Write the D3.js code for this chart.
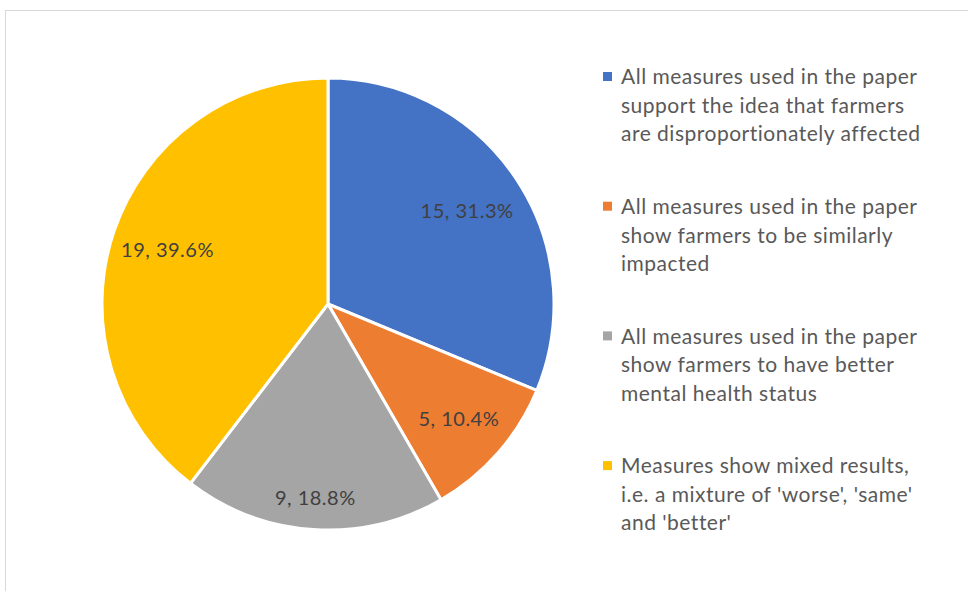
<!DOCTYPE html>
<html>
<head>
  <meta charset="utf-8">
  <title>Pie chart</title>
  <style>
    body { margin: 0; background: #fff; }
    svg { display: block; font-family: Lato, "Open Sans", sans-serif; }
    .slice { stroke: #fff; stroke-width: 3px; }
    .data-label { fill: #404040; font-size: 20px; letter-spacing: 0.5px; }
    .legend-text { fill: #595959; font-size: 21px; letter-spacing: 0.5px; }
  </style>
</head>
<body>
  <svg width="968" height="591"></svg>

  <script src="https://d3js.org/d3.v7.min.js"></script>
  <script>
    var categories = [
      ['All measures used in the paper', 'support the idea that farmers', 'are disproportionately affected'],
      ['All measures used in the paper', 'show farmers to be similarly', 'impacted'],
      ['All measures used in the paper', 'show farmers to have better', 'mental health status'],
      ['Measures show mixed results,', "i.e. a mixture of 'worse', 'same'", "and 'better'"]
    ];
    var counts = [15, 5, 9, 19];
    var colors = ['#4472c4', '#ed7d31', '#a5a5a5', '#ffc000'];

    var svg = d3.select('svg');

    // chart area border (runs off the right and bottom edges)
    svg.append('rect')
      .attr('x', 5.5).attr('y', 10.5)
      .attr('width', 1200).attr('height', 1200)
      .attr('fill', 'none')
      .attr('stroke', '#d9d9d9');

    var cx = 328, cy = 304, radius = 226;
    var total = d3.sum(counts);
    // how far out (fraction of radius) each label sits, like Excel's best fit
    var labelReach = [0.74, 0.77, 0.86, 0.75];

    var pie = d3.pie().sort(null).value(function(d) { return d; });
    var arc = d3.arc().innerRadius(0).outerRadius(radius);

    var g = svg.append('g').attr('transform', 'translate(' + cx + ',' + cy + ')');
    var arcs = pie(counts);

    g.selectAll('path.slice')
      .data(arcs)
      .enter().append('path')
      .attr('class', 'slice')
      .attr('fill', function(d, i) { return colors[i]; })
      .attr('d', arc);

    g.selectAll('text.data-label')
      .data(arcs)
      .enter().append('text')
      .attr('class', 'data-label')
      .attr('text-anchor', 'middle')
      .attr('dy', '0.35em')
      .attr('transform', function(d, i) {
        var r = radius * labelReach[i];
        var c = d3.arc().innerRadius(r).outerRadius(r).centroid(d);
        return 'translate(' + c + ')';
      })
      .text(function(d) { return d.data + ', ' + (d.data / total * 100).toFixed(1) + '%'; });

    // legend
    var legend = svg.append('g').attr('transform', 'translate(603,77)');
    var entry = legend.selectAll('g.entry')
      .data(categories)
      .enter().append('g')
      .attr('class', 'entry')
      .attr('transform', function(d, i) { return 'translate(0,' + (i * 129.7) + ')'; });

    entry.append('rect')
      .attr('x', 0).attr('y', -5)
      .attr('width', 9).attr('height', 9)
      .attr('fill', function(d, i) { return colors[i]; });

    entry.append('text')
      .attr('class', 'legend-text')
      .attr('x', 18)
      .selectAll('tspan')
      .data(function(d) { return d; })
      .enter().append('tspan')
      .attr('x', 18)
      .attr('y', function(d, i) { return i * 28.5; })
      .attr('dy', '0.35em')
      .text(function(d) { return d; });
  </script>
</body>
</html>
